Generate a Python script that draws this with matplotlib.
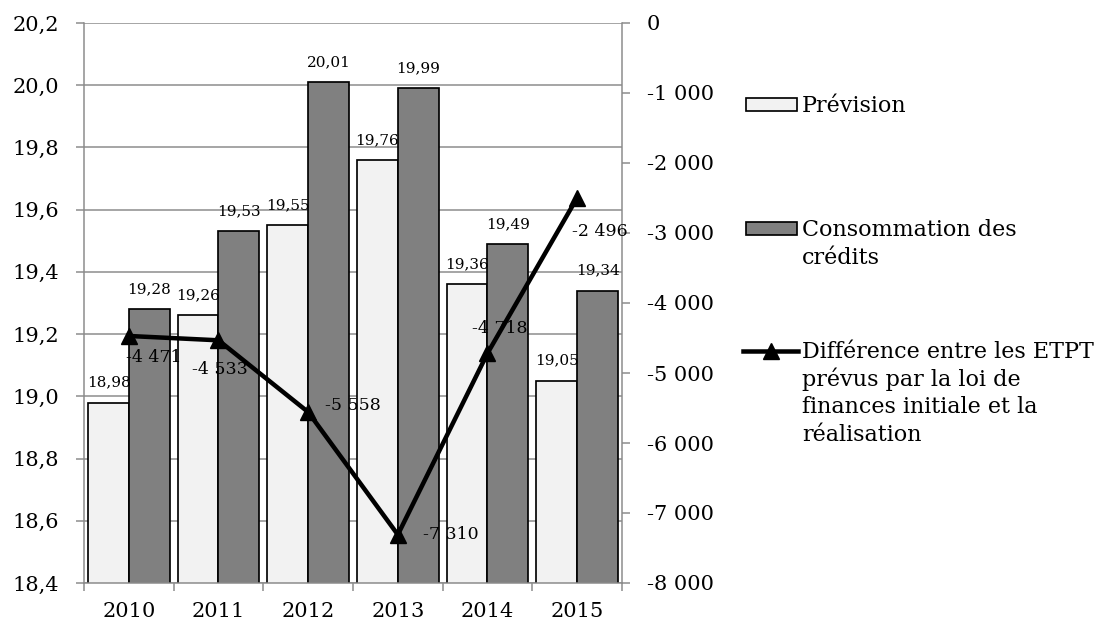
import numpy as np
import matplotlib
matplotlib.use("Agg")
import matplotlib.pyplot as plt
from matplotlib.patches import Rectangle
from matplotlib.lines import Line2D

# ---- data ----
years = ["2010", "2011", "2012", "2013", "2014", "2015"]
prevision = [18.98, 19.26, 19.55, 19.76, 19.36, 19.05]
consommation = [19.28, 19.53, 20.01, 19.99, 19.49, 19.34]
difference = [-4471, -4533, -5558, -7310, -4718, -2496]

left_ticks = [18.4, 18.6, 18.8, 19.0, 19.2, 19.4, 19.6, 19.8, 20.0, 20.2]
right_ticks = [0, -1000, -2000, -3000, -4000, -5000, -6000, -7000, -8000]

legend_labels = ["Prévision", "Consommation des\ncrédits",
                 "Différence entre les ETPT\nprévus par la loi de\nfinances initiale et la\nréalisation"]

# hand-placed offsets (points) for the line value labels
diff_label_offsets = [(18, -15.5), (1, -21), (32.5, 4.5), (38, 0), (8.5, 18), (16, -24)]

FONT = "DejaVu Serif"
plt.rcParams["font.family"] = [FONT]

W, H = 1102, 625
fig = plt.figure(figsize=(W / 100, H / 100), dpi=100)
fig.patch.set_facecolor("white")

px = 72 / 100  # one pixel in points

ax = fig.add_axes([84 / W, 1 - 583 / H, (622 - 84) / W, (583 - 23) / H])
ax2 = ax.twinx()

GRID = "#8a8a8a"
c_prev = "#f2f2f2"
c_cons = "#808080"
TICK_FS = 15

x = np.arange(len(years))
bw = 1 / 2.2

bars_p = ax.bar(x - bw / 2, prevision, width=bw, color=c_prev, edgecolor="black",
                linewidth=1.7 * px, zorder=2)
bars_c = ax.bar(x + bw / 2, consommation, width=bw, color=c_cons, edgecolor="black",
                linewidth=1.7 * px, zorder=2)

for bars, vals in ((bars_p, prevision), (bars_c, consommation)):
    for b, v in zip(bars, vals):
        ax.annotate(f"{v:.2f}".replace(".", ","),
                    xy=(b.get_x() + b.get_width() / 2, v),
                    xytext=(0, 16 * px), textcoords="offset points",
                    ha="center", va="baseline", fontsize=11, zorder=3)

ax.set_xlim(-0.5, len(years) - 0.5)
ax.set_ylim(left_ticks[0], left_ticks[-1])
ax.set_yticks(left_ticks)
ax.set_yticklabels([f"{t:.1f}".replace(".", ",") for t in left_ticks])
ax.yaxis.grid(True, color=GRID, linewidth=1.5 * px)
ax.set_axisbelow(True)

ax.set_xticks(x)
ax.set_xticklabels(years)
ax.set_xticks(np.arange(-0.5, len(years)), minor=True)
ax.tick_params(axis="x", which="major", length=0, pad=14, labelsize=TICK_FS)
ax.tick_params(axis="x", which="minor", length=8 * px, width=1.5 * px, color=GRID)
ax.tick_params(axis="y", length=8 * px, width=1.5 * px, color=GRID, pad=12, labelsize=TICK_FS)

for s in ("top", "right"):
    ax.spines[s].set_visible(False)
for s in ("left", "bottom"):
    ax.spines[s].set_color(GRID)
    ax.spines[s].set_linewidth(1.5 * px)

# line on the secondary axis
ax2.plot(x, difference, color="black", linewidth=4.5 * px, marker="^",
         markersize=12, zorder=4)
for xi, v, off in zip(x, difference, diff_label_offsets):
    ax2.annotate(f"{v:,}".replace(",", " "), xy=(xi, v), xytext=off,
                 textcoords="offset points", ha="center", va="center",
                 fontsize=12.5, zorder=5)

ax2.set_ylim(-8000, 0)
ax2.set_yticks(right_ticks)
ax2.set_yticklabels([f"{t:,}".replace(",", " ") for t in right_ticks])
ax2.tick_params(axis="y", length=8 * px, width=1.5 * px, color=GRID, pad=12, labelsize=TICK_FS)
for s in ("top", "left", "bottom"):
    ax2.spines[s].set_visible(False)
ax2.spines["right"].set_color(GRID)
ax2.spines["right"].set_linewidth(1.5 * px)

# ---- legend ----
def fx(v):
    return v / W

def fy(v):
    return 1 - v / H

LEG_FS = 16

def legend_text(lines, first_baseline, step=27.7):
    for i, t in enumerate(lines):
        fig.text(fx(802), fy(first_baseline + i * step), t, fontsize=LEG_FS,
                 ha="left", va="baseline")

for label, color, yc, base in ((legend_labels[0], c_prev, 104.5, 112),
                               (legend_labels[1], c_cons, 228.5, 236)):
    fig.add_artist(Rectangle((fx(745.5), fy(yc + 6.5)), (796.5 - 745.5) / W, 13 / H,
                             facecolor=color, edgecolor="black",
                             linewidth=1.7 * px, transform=fig.transFigure))
    legend_text(label.split("\n"), base)

fig.add_artist(Line2D([fx(743), fx(798)], [fy(350.5), fy(350.5)], color="black",
                      linewidth=4.5 * px, transform=fig.transFigure))
fig.add_artist(Line2D([fx(771)], [fy(350.5)], color="black", marker="^",
                      markersize=12, linestyle="none", transform=fig.transFigure))
legend_text(legend_labels[2].split("\n"), 358)

fig.savefig("out.png", dpi=100)
